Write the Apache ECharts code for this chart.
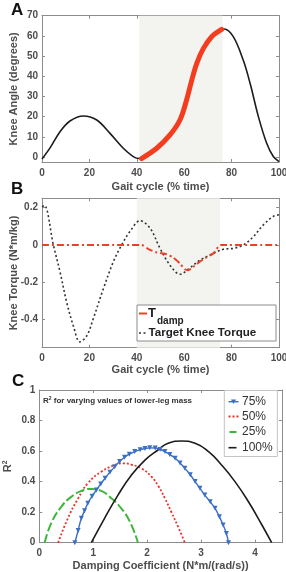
<!DOCTYPE html>
<html>
<head>
<meta charset="utf-8">
<script src="https://cdn.jsdelivr.net/npm/echarts@6.0.0/dist/echarts.min.js"></script>
<style>
  html, body { margin: 0; padding: 0; background: #fff; }
  #main { width: 286px; height: 572px; }
</style>
</head>
<body>
<div id="main"></div>
<script>
// panel A: knee angle over the gait cycle
var gaitA = [0, 3.4, 7.6, 11.8, 17.4, 23.1, 28.7, 34.3, 38.5, 41, 42, 48.4, 54, 58.2, 61, 63.2, 65.3, 68.1, 71.6, 75.8, 76.8, 80.7, 84.9, 87.8, 91.3, 94.8, 97.6, 100];
var kneeAngle = [-1, 4.5, 12.5, 17.8, 20.3, 18.3, 11.7, 4.3, 0.2, -0.8, -0.8, 4.3, 10.9, 18.3, 28.2, 38.1, 46.4, 53.8, 59.6, 63.2, 63.4, 59.6, 48, 36.5, 20, 6.8, 0.2, -2.3];
var dampRangeA = [42, 75.8];
var shadeA = [41, 76.2];

// panel B: torques
var gaitTarget = [0, 1, 4.8, 7.6, 10.4, 13.2, 16, 18.9, 21.6, 25.9, 30.1, 33.6, 37.1, 41.4, 45.6, 49.8, 54, 58.2, 61.7, 66.7, 72.3, 76.5, 80.7, 84.9, 89.2, 93.4, 97.6, 100];
var targetTorque = [0.205, 0.212, 0.0, -0.144, -0.306, -0.432, -0.519, -0.486, -0.396, -0.234, -0.09, 0, 0.072, 0.13, 0.09, -0.018, -0.108, -0.157, -0.13, -0.081, -0.045, -0.023, -0.018, 0, 0.045, 0.108, 0.153, 0.162];
var gaitDamp = [0, 42, 44.9, 48.4, 52.6, 55.4, 58.2, 60.3, 61.7, 63.8, 68.1, 72.3, 75.4, 100];
var dampTorque = [0, 0, -0.022, -0.04, -0.05, -0.068, -0.099, -0.13, -0.135, -0.117, -0.076, -0.045, 0, 0];
var shadeB = [40, 75.1];

// panel C: R^2 vs damping coefficient
var c75x = [0.66, 0.72, 0.78, 0.84, 0.90, 0.98, 1.06, 1.14, 1.22, 1.31, 1.40, 1.49, 1.58, 1.67, 1.77, 1.87, 1.96, 2.05, 2.15, 2.24, 2.33, 2.42, 2.52, 2.61, 2.70, 2.80, 2.89, 2.98, 3.07, 3.17, 3.26, 3.34, 3.41, 3.47, 3.51];
var c75y = [0.0, 0.08, 0.16, 0.21, 0.258, 0.305, 0.345, 0.385, 0.422, 0.462, 0.498, 0.532, 0.56, 0.58, 0.597, 0.609, 0.617, 0.621, 0.62, 0.611, 0.597, 0.577, 0.553, 0.522, 0.487, 0.445, 0.4, 0.356, 0.312, 0.268, 0.225, 0.17, 0.116, 0.06, 0.0];
var c50x = [0.35, 0.53, 0.72, 0.9, 1.15, 1.4, 1.55, 1.7, 1.9, 2.08, 2.21, 2.33, 2.45, 2.58, 2.7];
var c50y = [0.0, 0.16, 0.29, 0.389, 0.465, 0.509, 0.52, 0.512, 0.485, 0.432, 0.37, 0.29, 0.2, 0.1, 0.0];
var c25x = [0.1, 0.22, 0.41, 0.59, 0.78, 0.965, 1.15, 1.34, 1.52, 1.68, 1.83];
var c25y = [0.0, 0.127, 0.236, 0.3, 0.339, 0.352, 0.339, 0.29, 0.225, 0.138, 0.0];
var c100x = [0.965, 1.21, 1.46, 1.71, 1.96, 2.2, 2.39, 2.64, 2.89, 3.14, 3.38, 3.63, 3.88, 4.13, 4.31];
var c100y = [0.0, 0.16, 0.312, 0.443, 0.541, 0.607, 0.651, 0.666, 0.651, 0.596, 0.509, 0.4, 0.268, 0.116, 0.0];

var gaitTicks = [0, 20, 40, 60, 80, 100];
var angleTicks = [0, 10, 20, 30, 40, 50, 60, 70];
var torqueTicks = [-0.4, -0.2, 0, 0.2];
var dampTicks = [0, 1, 2, 3, 4];
var r2Ticks = [0, 0.2, 0.4, 0.6, 0.8, 1];

function pairs(xs, ys) {
  return xs.map(function (x, i) { return [x, ys[i]]; });
}

var FONT = 'Liberation Sans';
var FRAME = '#8c8c8c';
var LABEL = '#4d4d4d';

var COL = {
  angle: '#1c1c1c', damped: '#f43d1f',
  target: '#333333', tdamp: '#e8432a',
  c75: '#3b6fc4', c50: '#e8352b', c25: '#3fb53c', c100: '#1c1c1c'
};
var DASH = {
  target: [2, 2.5], tdamp: [7, 3, 2, 3], c50: [2, 2], c25: [9, 3]
};

function mainAxis(grid, pos, min, max, ticks, name, gap) {
  return {
    type: 'value', gridIndex: grid, position: pos, min: min, max: max,
    name: name, nameLocation: 'middle', nameGap: gap, nameMoveOverlap: false,
    nameTextStyle: { fontFamily: FONT, fontWeight: 'bold', fontSize: 11, color: LABEL },
    axisLine: { show: true, onZero: false, lineStyle: { color: FRAME } },
    axisTick: { show: true, inside: true, length: 3, customValues: ticks, lineStyle: { color: FRAME } },
    axisLabel: { customValues: ticks, fontFamily: FONT, fontWeight: 'bold', fontSize: 10, color: LABEL, margin: pos === 'left' ? 4 : 6 },
    splitLine: { show: false }
  };
}
function sideAxis(grid, pos, min, max, ticks) {
  return {
    type: 'value', gridIndex: grid, position: pos, min: min, max: max,
    axisLine: { show: true, onZero: false, lineStyle: { color: FRAME } },
    axisTick: { show: true, inside: true, length: 3, customValues: ticks, lineStyle: { color: FRAME } },
    axisLabel: { show: false },
    splitLine: { show: false }
  };
}

// legend pieces (drawn as graphics so the dash patterns show)
function keyLine(x, y, w, color, width, dash) {
  return { type: 'line', shape: { x1: x, y1: y, x2: x + w, y2: y },
    style: { stroke: color, lineWidth: width, lineDash: dash || null }, z: 100 };
}
function keyText(x, y, str, font, color) {
  return { type: 'text', x: x, y: y, style: { text: str, font: font, fill: color, verticalAlign: 'middle' }, z: 100 };
}

var dom = document.getElementById('main');
var myChart = echarts.init(dom, null, { renderer: 'canvas' });

var option = {
  animation: false,
  backgroundColor: '#fff',
  grid: [
    { left: 42, top: 15.7, width: 237, height: 146.3, containLabel: false, outerBoundsMode: 'none' },
    { left: 42, top: 198.3, width: 237, height: 149.4, containLabel: false, outerBoundsMode: 'none' },
    { left: 39.3, top: 390, width: 242.6, height: 152.7, containLabel: false, outerBoundsMode: 'none' }
  ],
  xAxis: [
    mainAxis(0, 'bottom', 0, 100, gaitTicks, 'Gait cycle (% time)', 19),
    sideAxis(0, 'top', 0, 100, gaitTicks),
    mainAxis(1, 'bottom', 0, 100, gaitTicks, 'Gait cycle (% time)', 17),
    sideAxis(1, 'top', 0, 100, gaitTicks),
    mainAxis(2, 'bottom', 0, 4.5, dampTicks, 'Damping Coefficient (N*m/(rad/s))', 18),
    sideAxis(2, 'top', 0, 4.5, dampTicks)
  ],
  yAxis: [
    mainAxis(0, 'left', -2.5, 70, angleTicks, 'Knee Angle (degrees)', 23),
    sideAxis(0, 'right', -2.5, 70, angleTicks),
    mainAxis(1, 'left', -0.55, 0.25, torqueTicks, 'Knee Torque (N*m/kg)', 23),
    sideAxis(1, 'right', -0.55, 0.25, torqueTicks),
    Object.assign(mainAxis(2, 'left', 0, 1, r2Ticks, '{r|R}{s|2}', 24), {
      nameTextStyle: { fontFamily: FONT, fontWeight: 'bold', color: LABEL,
        rich: { r: { fontFamily: FONT, fontWeight: 'bold', fontSize: 11, color: LABEL },
                s: { fontFamily: FONT, fontWeight: 'bold', fontSize: 7, color: LABEL, padding: [0, 0, 7, 0] } } }
    }),
    sideAxis(2, 'right', 0, 1, r2Ticks)
  ],
  graphic: [
    { type: 'text', left: 11, top: 2, style: { text: 'A', font: 'bold 17px Liberation Sans', fill: '#111' } },
    { type: 'text', left: 11, top: 181, style: { text: 'B', font: 'bold 17px Liberation Sans', fill: '#111' } },
    { type: 'text', left: 12, top: 373, style: { text: 'C', font: 'bold 17px Liberation Sans', fill: '#111' } },
    { type: 'text', left: 43, top: 396, z: 100, style: {
        text: '{r|R}{s|2}{r| for varying values of lower-leg mass}',
        rich: {
          r: { fontFamily: FONT, fontWeight: 'bold', fontSize: 8, fill: '#333' },
          s: { fontFamily: FONT, fontWeight: 'bold', fontSize: 5, fill: '#333', padding: [0, 0, 5, 0] }
        } } },

    // legend B
    { type: 'rect', shape: { x: 137, y: 305, width: 139, height: 36 }, style: { fill: '#fff', stroke: FRAME, lineWidth: 1 }, z: 99 },
    keyLine(139, 313.5, 8, COL.tdamp, 2, null),
    keyText(148, 313, 'T', 'bold 13px Liberation Sans', '#222'),
    keyText(157, 321, 'damp', 'bold 10px Liberation Sans', '#222'),
    keyLine(139, 333, 9, COL.target, 1.6, DASH.target),
    keyText(148.5, 333, 'Target Knee Torque', 'bold 11.6px Liberation Sans', '#222'),

    // legend C
    { type: 'rect', shape: { x: 224.3, y: 390.5, width: 53, height: 66 }, style: { fill: '#fff', stroke: '#c4c4c4', lineWidth: 1 }, z: 99 },
    keyLine(228.5, 401.7, 10, COL.c75, 1.4, null),
    { type: 'polygon', shape: { points: [[231, 399.5], [236, 399.5], [233.5, 404]] }, style: { fill: COL.c75 }, z: 100 },
    keyText(242, 401.7, '75%', '12px Liberation Sans', '#333'),
    keyLine(228.5, 416.5, 10, COL.c50, 1.8, DASH.c50),
    keyText(242, 416.5, '50%', '12px Liberation Sans', '#333'),
    keyLine(229.5, 432, 7, COL.c25, 2, null),
    keyText(242, 432, '25%', '12px Liberation Sans', '#333'),
    keyLine(228.5, 447.7, 8, COL.c100, 1.6, null),
    keyText(242, 447.7, '100%', '12px Liberation Sans', '#333')
  ],
  series: [
    {
      name: 'shadeA', type: 'line', xAxisIndex: 0, yAxisIndex: 0, data: [], z: 0,
      markArea: { silent: true, itemStyle: { color: '#f3f3f0' }, data: [[{ xAxis: shadeA[0] }, { xAxis: shadeA[1] }]] }
    },
    {
      name: 'Knee angle', type: 'line', xAxisIndex: 0, yAxisIndex: 0,
      data: pairs(gaitA, kneeAngle), smooth: 0.35, symbol: 'none',
      lineStyle: { color: COL.angle, width: 1.6 }, z: 3
    },
    {
      name: 'Damped angle', type: 'line', xAxisIndex: 0, yAxisIndex: 0,
      data: pairs(gaitA, kneeAngle).filter(function (p) { return p[0] >= dampRangeA[0] && p[0] <= dampRangeA[1]; }),
      smooth: 0.35, symbol: 'none',
      lineStyle: { color: COL.damped, width: 5, cap: 'round' }, z: 4
    },
    {
      name: 'shadeB', type: 'line', xAxisIndex: 2, yAxisIndex: 2, data: [], z: 0,
      markArea: { silent: true, itemStyle: { color: '#f3f3f0' }, data: [[{ xAxis: shadeB[0] }, { xAxis: shadeB[1] }]] }
    },
    {
      name: 'Target Knee Torque', type: 'line', xAxisIndex: 2, yAxisIndex: 2,
      data: pairs(gaitTarget, targetTorque), smooth: 0.35, symbol: 'none',
      lineStyle: { color: COL.target, width: 1.6, type: DASH.target }, z: 3
    },
    {
      name: 'T_damp', type: 'line', xAxisIndex: 2, yAxisIndex: 2,
      data: pairs(gaitDamp, dampTorque), smooth: 0.2, symbol: 'none',
      lineStyle: { color: COL.tdamp, width: 2, type: DASH.tdamp }, z: 4
    },
    {
      name: '50%', type: 'line', xAxisIndex: 4, yAxisIndex: 4,
      data: pairs(c50x, c50y), smooth: true, symbol: 'none',
      lineStyle: { color: COL.c50, width: 1.8, type: DASH.c50 }
    },
    {
      name: '25%', type: 'line', xAxisIndex: 4, yAxisIndex: 4,
      data: pairs(c25x, c25y), smooth: true, symbol: 'none',
      lineStyle: { color: COL.c25, width: 2, type: DASH.c25 }
    },
    {
      name: '100%', type: 'line', xAxisIndex: 4, yAxisIndex: 4,
      data: pairs(c100x, c100y), smooth: true, symbol: 'none',
      lineStyle: { color: COL.c100, width: 1.6 }
    },
    {
      name: '75%', type: 'line', xAxisIndex: 4, yAxisIndex: 4,
      data: pairs(c75x, c75y), smooth: true, symbol: 'triangle', symbolSize: 5, symbolRotate: 180,
      showAllSymbol: true,
      itemStyle: { color: COL.c75 },
      lineStyle: { color: COL.c75, width: 1.4 }
    }
  ]
};

if (option && typeof option === "object") {
  myChart.setOption(option, true);
}
</script>
</body>
</html>
